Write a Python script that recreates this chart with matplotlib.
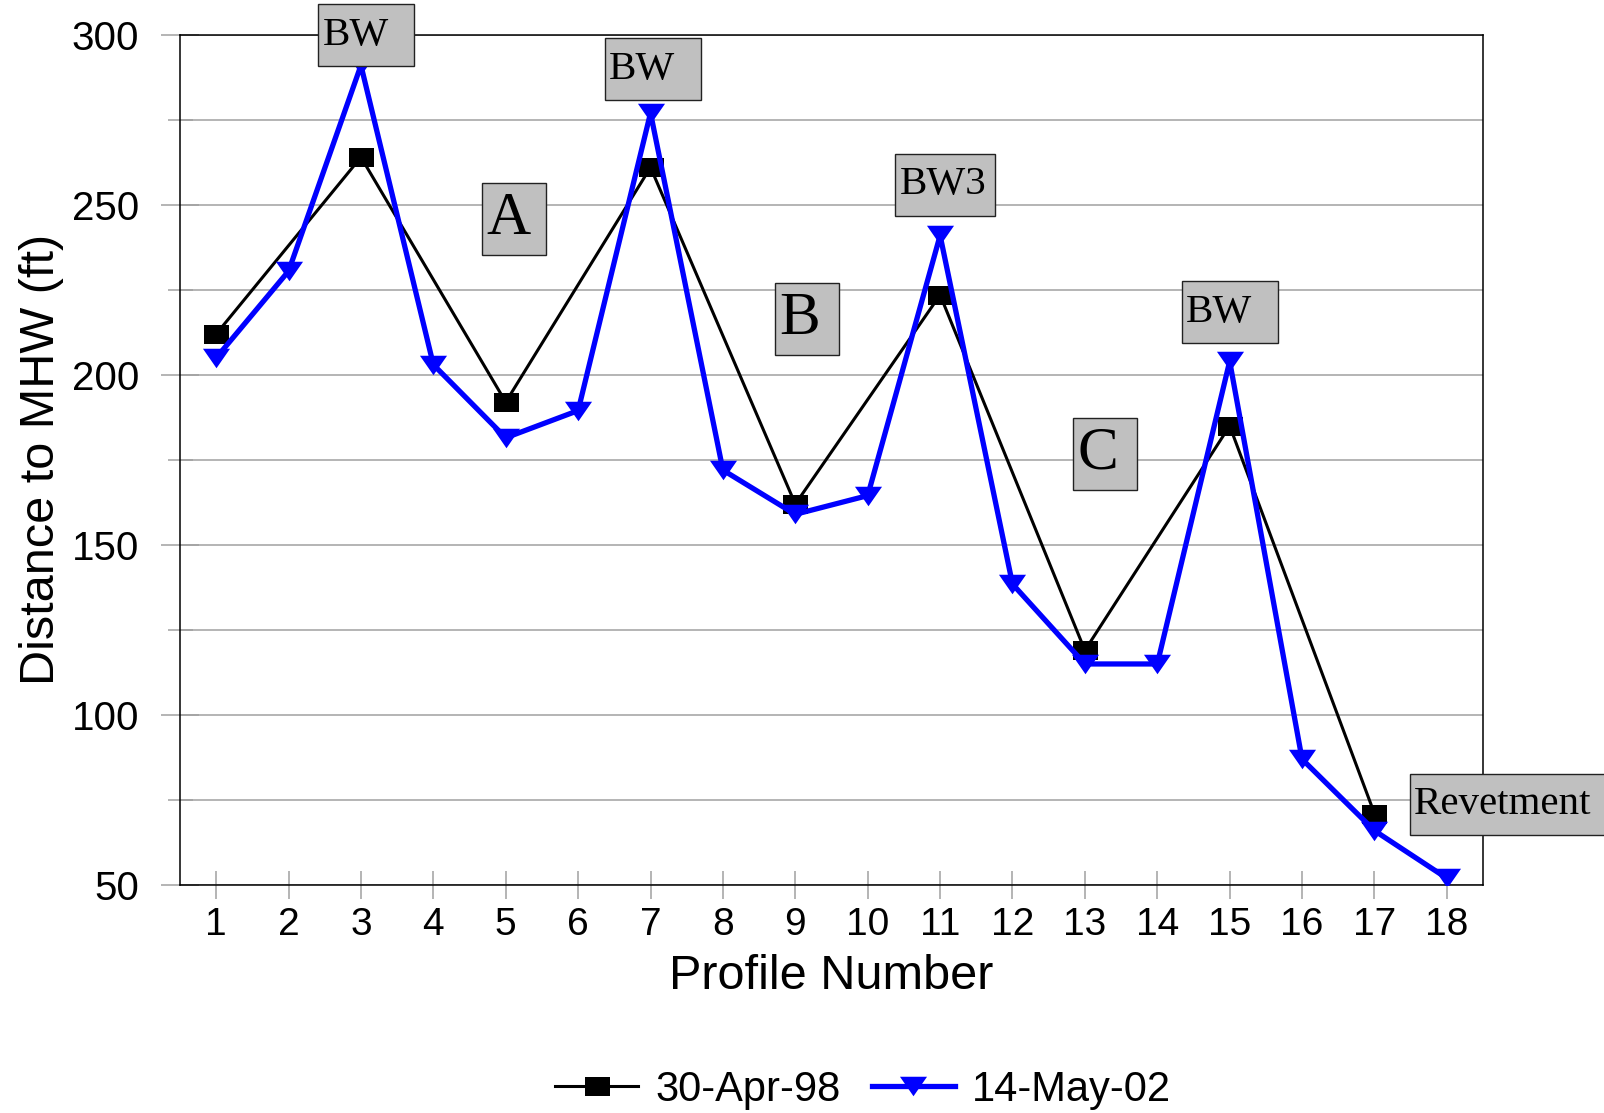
#!/usr/bin/env python3
"""
Distance to MHW along the shoreline profiles, 1998 vs 2002 survey.
Writes out.png.
"""

import matplotlib
matplotlib.use("Agg")
import matplotlib.pyplot as plt
from matplotlib.path import Path
from matplotlib.ticker import MultipleLocator, FixedLocator

# survey data
profiles_98 = [1, 3, 5, 7, 9, 11, 13, 15, 17]
dist_98 = [212, 264, 192, 261, 162, 223.5, 119, 185, 71]

profiles_02 = list(range(1, 19))
dist_02 = [205, 230.5, 291, 203, 181.5, 189.5, 277, 172, 159, 164.5,
           241, 138.5, 115, 115, 204, 87, 66, 52]

series_labels = ["30-Apr-98", "14-May-02"]
y_ticks = [50, 100, 150, 200, 250, 300]

# structure labels: left edge of the box (profile no.) and centre (ft)
notes = ["BW", "A", "BW", "B", "BW3", "C", "BW", "Revetment"]
note_x = [2.41, 4.67, 6.37, 8.72, 10.38, 12.84, 14.34, 17.49]
note_y = [299.9, 245.7, 289.8, 216.3, 255.9, 176.7, 218.4, 73.7]

SANS = "Liberation Sans"
SERIF = "Liberation Serif"
GRID = "#a0a0a0"

# flat markers like the original spreadsheet chart
SQUARE = [(-1, -0.76), (1, -0.76), (1, 0.76), (-1, 0.76), (-1, -0.76)]
TRIANGLE = [(-1, 0.72), (1, 0.72), (0, -0.72), (-1, 0.72)]


def label_box(width, height, padl=4):
    """Fixed size box (pixels), left aligned to the text."""
    def style(x0, y0, w, h, mutation_size):
        left = x0 - padl
        cy = y0 + h / 2
        verts = [(left, cy - height / 2), (left + width, cy - height / 2),
                 (left + width, cy + height / 2), (left, cy + height / 2),
                 (left, cy - height / 2)]
        return Path(verts, closed=True)
    return style


def note_style(text):
    """Font size and box size for a structure label."""
    if text in ("A", "B", "C"):
        return 44, 64, 72
    if text == "BW3":
        return 29.5, 100, 62
    if text == "Revetment":
        return 29.5, 200, 61
    return 29.5, 96, 62


fig = plt.figure(figsize=(16.04, 11.13), dpi=100)
ax = fig.add_axes([0.1122, 0.2048, 0.8124, 0.764])

ax.plot(profiles_98, dist_98, color="black", linewidth=2.2,
        marker=SQUARE, markersize=18, markerfacecolor="black",
        markeredgewidth=0, label=series_labels[0], zorder=3)
ax.plot(profiles_02, dist_02, color="#0000ff", linewidth=3.8,
        marker=TRIANGLE, markersize=19.5, markerfacecolor="#0000ff",
        markeredgewidth=0, label=series_labels[1], zorder=4)

ax.set_xlim(0.5, 18.5)
ax.set_ylim(50, 300)
ax.xaxis.set_major_locator(FixedLocator(profiles_02))
ax.set_yticks(y_ticks)
ax.yaxis.set_minor_locator(MultipleLocator(25))

ax.grid(True, axis="y", which="both", color=GRID, linewidth=1.1)
ax.set_axisbelow(True)

ax.tick_params(axis="x", direction="inout", length=20, width=1.1,
               color=GRID, pad=6, labelsize=28)
ax.tick_params(axis="y", which="major", direction="inout", length=27,
               width=1.1, color=GRID, pad=16, labelsize=29)
ax.tick_params(axis="y", which="minor", direction="inout", length=18,
               width=1.1, color=GRID)
for lab in ax.get_xticklabels() + ax.get_yticklabels():
    lab.set_fontfamily(SANS)

for s in ax.spines.values():
    s.set_color("black")
    s.set_linewidth(1.1)

ax.set_xlabel("Profile Number", fontsize=35, fontfamily=SANS)
ax.set_ylabel("Distance to MHW (ft)", fontsize=35, fontfamily=SANS)
ax.xaxis.set_label_coords(0.5, -0.081)
ax.yaxis.set_label_coords(-0.089, 0.5)

for text, x, y in zip(notes, note_x, note_y):
    size, w, h = note_style(text)
    ax.annotate(text, xy=(x, y), xytext=(3, 0), textcoords="offset points",
                ha="left", va="center", fontsize=size, fontfamily=SERIF,
                zorder=6, annotation_clip=False,
                bbox=dict(boxstyle=label_box(w, h), facecolor="#c0c0c0",
                          edgecolor="#222222", linewidth=1.0))

handles, labels = ax.get_legend_handles_labels()
fig.legend(handles, labels, loc="center", bbox_to_anchor=(0.538, 0.021),
           ncol=2, frameon=False, numpoints=1, borderpad=0,
           handlelength=2.0, handletextpad=0.4, columnspacing=0.75,
           prop={"family": SANS, "size": 30})

fig.savefig("out.png", dpi=100)
